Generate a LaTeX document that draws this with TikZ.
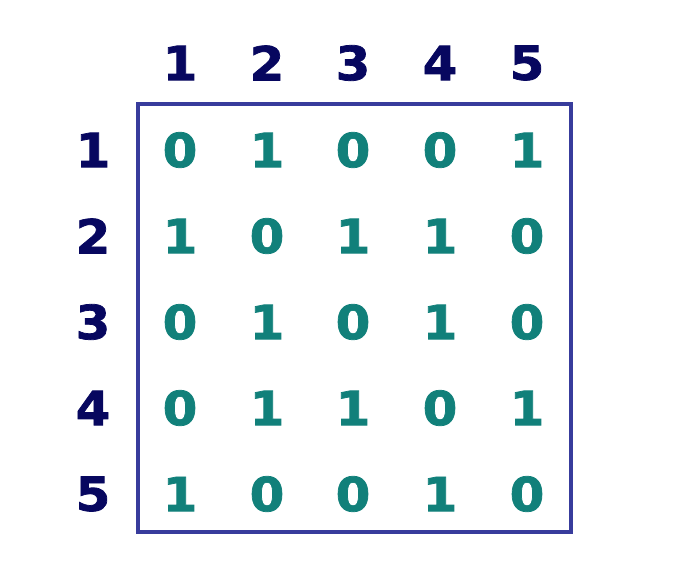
\documentclass[tikz,border=0pt]{standalone}
\usepackage{fontspec}
\newfontfamily\digitfont{DejaVu Sans}[FakeStretch=1.06,FakeBold=1.6]
\usetikzlibrary{positioning}
\definecolor{hdrnavy}{HTML}{07075F}
\definecolor{cellteal}{HTML}{11807A}
\definecolor{boxblue}{HTML}{383C9C}

\begin{document}
\begin{tikzpicture}[x=1pt,y=-1pt,
        hdr/.style={text=hdrnavy,font=\digitfont\bfseries\fontsize{47}{47}\selectfont,inner sep=0pt},
        cell/.style={text=cellteal,font=\digitfont\bfseries\fontsize{47}{47}\selectfont,inner sep=0pt}]

        \useasboundingbox (0,0) rectangle (700,584);

        \coordinate(TL) at (137.5,104);
        \coordinate(BR) at (570.5,531.5);

        % column and row headers
        \node[hdr] (c1) at (180,63) {1};
        \node[hdr] (c2) at (267,63) {2};
        \node[hdr] (c3) at (353,63) {3};
        \node[hdr] (c4) at (440,63) {4};
        \node[hdr] (c5) at (527,63) {5};

        \node[hdr] (r1) at (93,150) {1};
        \node[hdr] (r2) at (93,236) {2};
        \node[hdr] (r3) at (93,322) {3};
        \node[hdr] (r4) at (93,408) {4};
        \node[hdr] (r5) at (93,494) {5};

        % the matrix
        \node[cell] (m11) at (180,150) {0};
        \node[cell] (m12) at (267,150) {1};
        \node[cell] (m13) at (353,150) {0};
        \node[cell] (m14) at (440,150) {0};
        \node[cell] (m15) at (527,150) {1};

        \node[cell] (m21) at (180,236) {1};
        \node[cell] (m22) at (267,236) {0};
        \node[cell] (m23) at (353,236) {1};
        \node[cell] (m24) at (440,236) {1};
        \node[cell] (m25) at (527,236) {0};

        \node[cell] (m31) at (180,322) {0};
        \node[cell] (m32) at (267,322) {1};
        \node[cell] (m33) at (353,322) {0};
        \node[cell] (m34) at (440,322) {1};
        \node[cell] (m35) at (527,322) {0};

        \node[cell] (m41) at (180,408) {0};
        \node[cell] (m42) at (267,408) {1};
        \node[cell] (m43) at (353,408) {1};
        \node[cell] (m44) at (440,408) {0};
        \node[cell] (m45) at (527,408) {1};

        \node[cell] (m51) at (180,494) {1};
        \node[cell] (m52) at (267,494) {0};
        \node[cell] (m53) at (353,494) {0};
        \node[cell] (m54) at (440,494) {1};
        \node[cell] (m55) at (527,494) {0};

        \draw[boxblue,line width=4pt] (TL) rectangle (BR);

\end{tikzpicture}
\end{document}
